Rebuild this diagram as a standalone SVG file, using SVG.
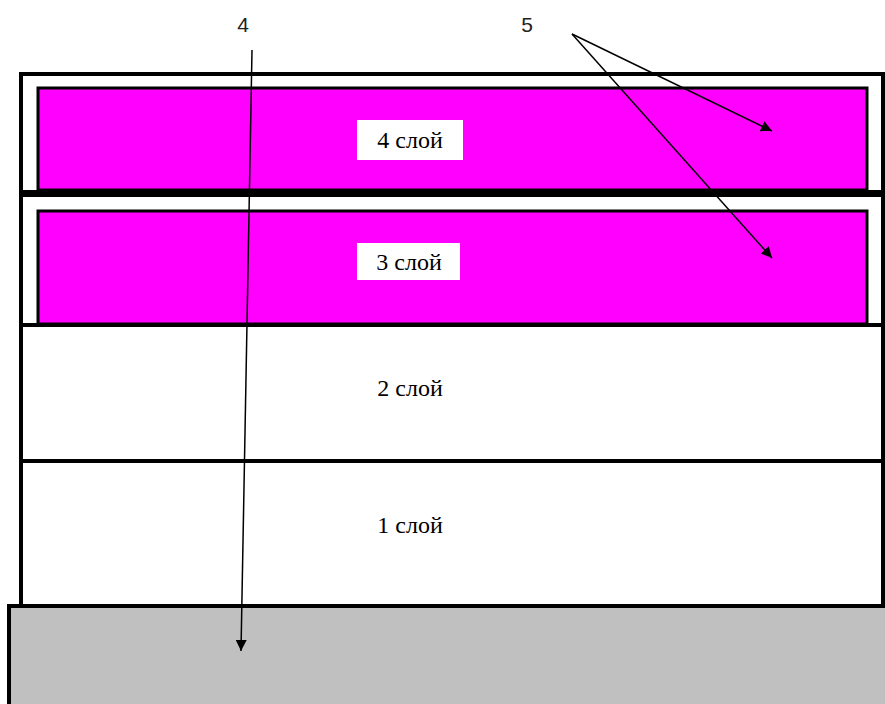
<svg xmlns="http://www.w3.org/2000/svg" width="885" height="704" viewBox="0 0 885 704">
<defs>
<marker id="ah" viewBox="0 0 10 10" refX="10" refY="5" markerWidth="11" markerHeight="11" markerUnits="userSpaceOnUse" orient="auto">
<path d="M0,0 L10,5 L0,10 z" fill="#000"/>
</marker>
<style>
.frame{fill:#fff;stroke:#000;stroke-width:4}
.mag{fill:#ff00ff;stroke:#000;stroke-width:3}
.lbl{font-family:'Liberation Serif','DejaVu Serif',serif;font-size:24px;fill:#000;text-anchor:middle}
.num{font-family:'Liberation Sans',sans-serif;font-size:21px;fill:#222;text-anchor:middle}
.conn{stroke:#000;stroke-width:1.5;fill:none;marker-end:url(#ah)}
</style>
</defs>
<rect width="885" height="704" fill="#fff"/>
<g id="base">
<rect x="9" y="606" width="880" height="102" fill="#c0c0c0" stroke="#000" stroke-width="4"/>
</g>
<g id="layer1">
<rect class="frame" x="21" y="461" width="862" height="145"/>
<text class="lbl" x="410" y="533" font-family="Liberation Serif, serif">1 слой</text>
</g>
<g id="layer2">
<rect class="frame" x="21" y="325" width="862" height="136"/>
<text class="lbl" x="410" y="396" font-family="Liberation Serif, serif">2 слой</text>
</g>
<g id="layer3">
<rect class="frame" x="21" y="195" width="862" height="130"/>
<rect class="mag" x="38" y="211" width="829" height="113"/>
<rect x="357" y="243" width="103" height="37" fill="#fff"/>
<text class="lbl" x="409" y="270" font-family="Liberation Serif, serif">3 слой</text>
</g>
<g id="layer4">
<rect class="frame" x="21" y="74" width="862" height="118"/>
<rect class="mag" x="38" y="88" width="829" height="102"/>
<rect x="357" y="120" width="106" height="40" fill="#fff"/>
<text class="lbl" x="410" y="148" font-family="Liberation Serif, serif">4 слой</text>
</g>
<g id="label4"><text class="num" x="243" y="32">4</text></g>
<g id="label5"><text class="num" x="527" y="32">5</text></g>
<g id="connectors">
<line class="conn" x1="252" y1="50" x2="241" y2="651"/>
<line class="conn" x1="572" y1="34" x2="772" y2="131"/>
<line class="conn" x1="572" y1="34" x2="772" y2="258"/>
</g>
</svg>
